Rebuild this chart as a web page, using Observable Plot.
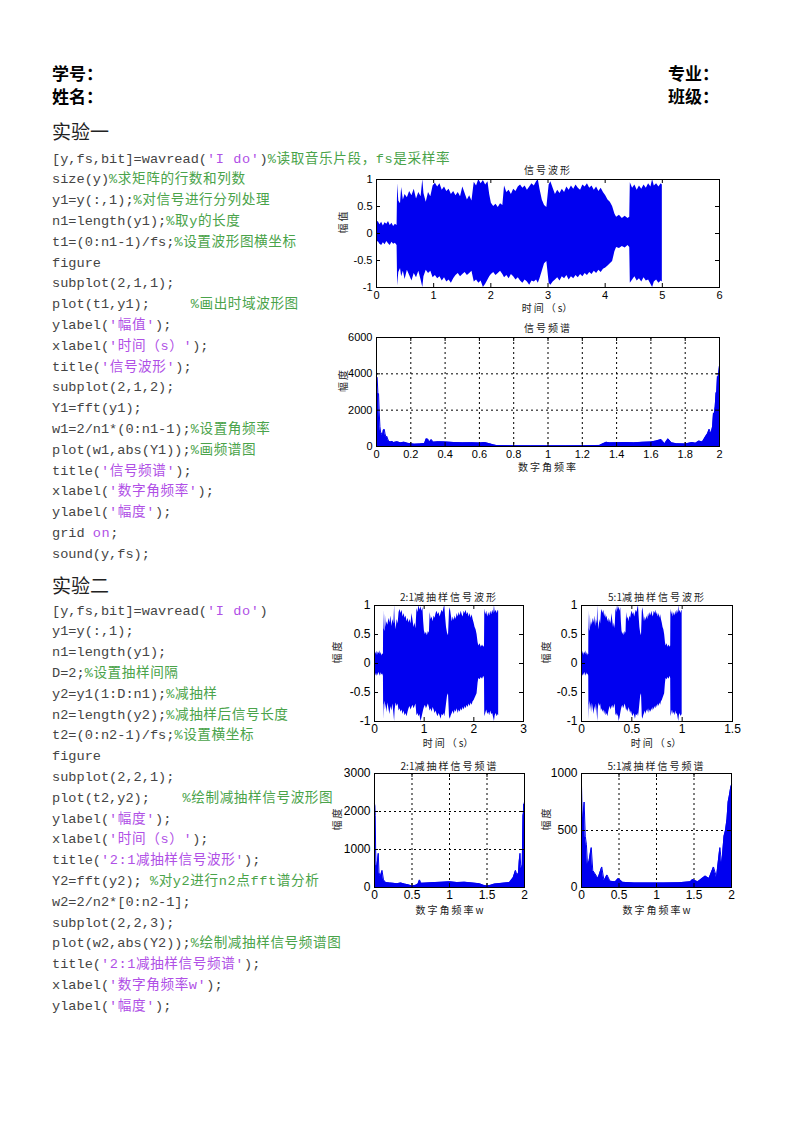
<!DOCTYPE html>
<html><head><meta charset="utf-8">
<script src="https://cdn.jsdelivr.net/npm/d3@7"></script>
<script src="https://cdn.jsdelivr.net/npm/@observablehq/plot@0.6"></script>
<style>
body{margin:0;background:#fff;}
#page{position:relative;width:793px;height:1122px;overflow:hidden;background:#fff;}
.hdr{position:absolute;font-family:"Noto Sans CJK SC";font-weight:700;font-size:17px;line-height:17px;color:#000;white-space:pre;}
.sec{position:absolute;left:52px;font-family:"Noto Sans CJK SC";font-size:19px;line-height:19px;color:#222;font-weight:400;}
.code{position:absolute;left:52px;font-family:"Liberation Mono","Noto Sans CJK SC";font-size:13.6px;color:#444;white-space:pre;}
.code div{height:20.8px;line-height:20.8px;}
.c{color:#4aa34a;letter-spacing:0.6px;}
.s{color:#b050e6;letter-spacing:0.6px;}
</style></head>
<body><div id="page"></div>
<script>
// ---------- document text ----------
const headerLeft = ["学号：", "姓名："];
const headerRight = ["专业：", "班级："];
const sections = ["实验一", "实验二"];
const code1 = [
  [["t","[y,fs,bit]=wavread("],["s","'I do'"],["t",")"],["c","%读取音乐片段，fs是采样率"]],
  [["t","size(y)"],["c","%求矩阵的行数和列数"]],
  [["t","y1=y(:,1);"],["c","%对信号进行分列处理"]],
  [["t","n1=length(y1);"],["c","%取y的长度"]],
  [["t","t1=(0:n1-1)/fs;"],["c","%设置波形图横坐标"]],
  [["t","figure"]],
  [["t","subplot(2,1,1);"]],
  [["t","plot(t1,y1);     "],["c","%画出时域波形图"]],
  [["t","ylabel("],["s","'幅值'"],["t",");"]],
  [["t","xlabel("],["s","'时间（s）'"],["t",");"]],
  [["t","title("],["s","'信号波形'"],["t",");"]],
  [["t","subplot(2,1,2);"]],
  [["t","Y1=fft(y1);"]],
  [["t","w1=2/n1*(0:n1-1);"],["c","%设置角频率"]],
  [["t","plot(w1,abs(Y1));"],["c","%画频谱图"]],
  [["t","title("],["s","'信号频谱'"],["t",");"]],
  [["t","xlabel("],["s","'数字角频率'"],["t",");"]],
  [["t","ylabel("],["s","'幅度'"],["t",");"]],
  [["t","grid "],["s","on"],["t",";"]],
  [["t","sound(y,fs);"]]
];
const code2 = [
  [["t","[y,fs,bit]=wavread("],["s","'I do'"],["t",")"]],
  [["t","y1=y(:,1);"]],
  [["t","n1=length(y1);"]],
  [["t","D=2;"],["c","%设置抽样间隔"]],
  [["t","y2=y1(1:D:n1);"],["c","%减抽样"]],
  [["t","n2=length(y2);"],["c","%减抽样后信号长度"]],
  [["t","t2=(0:n2-1)/fs;"],["c","%设置横坐标"]],
  [["t","figure"]],
  [["t","subplot(2,2,1);"]],
  [["t","plot(t2,y2);    "],["c","%绘制减抽样信号波形图"]],
  [["t","ylabel("],["s","'幅度'"],["t",");"]],
  [["t","xlabel("],["s","'时间（s）'"],["t",");"]],
  [["t","title("],["s","'2:1减抽样信号波形'"],["t",");"]],
  [["t","Y2=fft(y2); "],["c","%对y2进行n2点fft谱分析"]],
  [["t","w2=2/n2*[0:n2-1];"]],
  [["t","subplot(2,2,3);"]],
  [["t","plot(w2,abs(Y2));"],["c","%绘制减抽样信号频谱图"]],
  [["t","title("],["s","'2:1减抽样信号频谱'"],["t",");"]],
  [["t","xlabel("],["s","'数字角频率w'"],["t",");"]],
  [["t","ylabel("],["s","'幅度'"],["t",");"]]
];

// ---------- chart data ----------
// waveform envelope of y1 (time s, upper, lower)
const sigT  = [0.00,0.03,0.06,0.09,0.12,0.15,0.18,0.21,0.24,0.27,0.30,0.33,0.36,0.37,0.39,0.42,0.44,0.47,0.50,0.54,0.58,0.62,0.66,0.70,0.74,0.78,0.81,0.83,0.87,0.91,0.95,0.99,1.03,1.07,1.11,1.15,1.19,1.23,1.27,1.31,1.35,1.39,1.43,1.47,1.51,1.55,1.59,1.63,1.67,1.71,1.75,1.79,1.83,1.87,1.91,1.95,1.98,2.01,2.05,2.09,2.13,2.17,2.21,2.24,2.28,2.32,2.36,2.40,2.44,2.48,2.52,2.56,2.60,2.64,2.68,2.72,2.76,2.80,2.83,2.86,2.90,2.94,2.98,3.02,3.05,3.09,3.13,3.17,3.21,3.25,3.29,3.33,3.37,3.41,3.45,3.49,3.53,3.57,3.61,3.65,3.69,3.73,3.77,3.81,3.85,3.89,3.93,3.97,4.01,4.05,4.09,4.13,4.17,4.20,4.25,4.30,4.35,4.40,4.43,4.44,4.48,4.52,4.56,4.60,4.64,4.68,4.72,4.76,4.80,4.83,4.86,4.90,4.94,4.98,5.00];
const sigHi = [0.20,0.22,0.16,0.21,0.14,0.20,0.17,0.22,0.15,0.19,0.13,0.17,0.15,0.92,0.60,0.55,0.85,0.62,0.72,0.66,0.78,0.70,0.82,0.64,0.76,0.68,1.00,0.74,0.58,0.76,0.68,0.88,0.93,0.86,0.92,0.80,0.86,0.78,0.82,0.72,0.78,0.70,0.76,0.68,0.86,0.74,0.62,0.70,0.60,0.95,0.88,1.00,0.92,0.98,0.90,0.96,0.72,0.56,0.50,0.54,0.48,0.55,0.52,0.88,0.76,0.80,0.72,0.82,0.78,0.86,0.90,0.84,0.88,0.80,0.86,0.92,0.88,0.96,1.00,0.82,0.62,0.52,0.48,0.90,0.96,0.84,0.72,0.80,0.74,0.82,0.76,0.86,0.80,0.88,0.82,0.90,0.84,0.80,0.90,0.86,0.92,0.84,0.88,0.80,0.86,0.78,0.84,0.76,0.70,0.62,0.58,0.50,0.36,0.30,0.34,0.28,0.32,0.28,0.30,0.94,0.84,0.90,0.80,0.88,0.82,0.90,0.84,0.92,0.86,1.00,0.88,0.92,0.86,0.92,0.90];
const sigLo = [-0.18,-0.15,-0.20,-0.22,-0.17,-0.21,-0.15,-0.19,-0.22,-0.16,-0.20,-0.18,-0.22,-0.97,-0.72,-0.65,-0.80,-0.70,-0.85,-0.68,-0.78,-0.88,-0.74,-0.82,-0.70,-0.86,-1.00,-0.80,-0.68,-0.74,-0.70,-0.82,-0.78,-0.84,-0.80,-0.88,-0.82,-0.90,-0.86,-0.92,-0.84,-0.78,-0.74,-0.80,-0.76,-0.72,-0.78,-0.74,-0.70,-0.90,-0.86,-0.92,-0.88,-1.00,-0.94,-0.86,-0.80,-0.76,-0.72,-0.78,-0.74,-0.70,-0.76,-0.82,-0.78,-0.84,-0.76,-0.80,-0.86,-0.82,-0.88,-0.92,-0.86,-0.90,-0.96,-0.88,-0.90,-0.86,-0.92,-0.84,-0.70,-0.56,-0.52,-0.92,-0.96,-0.90,-0.86,-0.82,-0.88,-0.80,-0.84,-0.78,-0.86,-0.80,-0.84,-0.78,-0.82,-0.76,-0.80,-0.74,-0.78,-0.72,-0.76,-0.70,-0.74,-0.68,-0.72,-0.66,-0.64,-0.60,-0.56,-0.52,-0.34,-0.26,-0.28,-0.24,-0.27,-0.22,-0.26,-0.92,-0.86,-0.80,-0.88,-0.84,-0.90,-0.82,-0.88,-0.86,-0.94,-1.00,-0.90,-0.86,-0.92,-0.88,-0.90];
// |Y1| spectrum
const specW1 = [0,0.004,0.008,0.012,0.016,0.02,0.025,0.03,0.035,0.04,0.045,0.05,0.055,0.06,0.07,0.08,0.09,0.1,0.12,0.14,0.16,0.18,0.2,0.22,0.25,0.28,0.29,0.3,0.31,0.32,0.33,0.36,0.4,0.45,0.5,0.55,0.6,0.63,0.66,0.68,0.7,0.8,0.9,1.0,1.1,1.2,1.3,1.32,1.34,1.36,1.4,1.45,1.5,1.55,1.6,1.63,1.66,1.68,1.7,1.72,1.75,1.8,1.84,1.86,1.88,1.9,1.92,1.93,1.94,1.95,1.955,1.96,1.965,1.97,1.975,1.98,1.984,1.988,1.992,1.996,2.0];
const specM1 = [3850,3800,2950,2900,1850,1100,700,750,600,900,950,700,500,560,300,250,280,220,260,200,240,180,150,130,140,160,420,400,250,380,240,260,250,220,200,210,190,220,150,90,50,40,35,35,35,40,60,150,230,200,210,220,200,230,250,300,380,150,420,200,150,140,220,180,300,250,560,700,950,700,900,1100,1850,1800,2200,2950,3000,3850,3800,4100,4450];
// |Y2| spectrum (2:1)
const specW2 = [0,0.005,0.01,0.015,0.02,0.03,0.04,0.05,0.06,0.07,0.08,0.1,0.12,0.15,0.2,0.25,0.3,0.35,0.4,0.45,0.5,0.55,0.58,0.6,0.62,0.7,0.8,0.9,1.0,1.1,1.2,1.3,1.4,1.45,1.5,1.55,1.6,1.7,1.8,1.85,1.88,1.9,1.92,1.93,1.94,1.95,1.96,1.97,1.98,1.985,1.99,1.995,2.0];
const specM2 = [2200,2150,1900,1000,600,550,700,900,400,320,300,450,200,130,120,110,100,120,90,70,40,60,90,200,110,120,130,140,150,130,140,120,100,60,40,60,90,110,130,260,450,320,380,700,900,550,500,600,1900,1950,2200,2150,2250];
// |Y5| spectrum (5:1)
const specW5 = [0,0.01,0.02,0.035,0.05,0.065,0.08,0.1,0.13,0.15,0.18,0.22,0.27,0.3,0.34,0.38,0.45,0.49,0.55,0.7,0.9,1.1,1.3,1.45,1.48,1.55,1.65,1.7,1.76,1.8,1.845,1.87,1.9,1.92,1.94,1.955,1.97,1.99,2.0];
const specM5 = [900,600,620,750,450,380,200,230,350,150,120,80,180,60,110,55,50,80,45,40,40,40,42,50,70,50,100,80,180,90,350,200,450,500,600,750,800,880,900];

// tick values
const ticksT6 = [0,1,2,3,4,5,6];
const ticksT3 = [0,1,2,3];
const ticksT15 = [0,0.5,1,1.5];
const ticksW02 = [0,0.2,0.4,0.6,0.8,1,1.2,1.4,1.6,1.8,2];
const ticksW05 = [0,0.5,1,1.5,2];
const ticksAmp = [-1,-0.5,0,0.5,1];
const ticksM1 = [0,2000,4000,6000];
const ticksM2 = [0,1000,2000,3000];
const ticksM5 = [0,500,1000];

// ---------- page text ----------
const page = document.getElementById("page");
function addDiv(cls, text, left, top) {
  const d = document.createElement("div");
  d.className = cls; d.textContent = text;
  d.style.left = left + "px"; d.style.top = top + "px";
  page.appendChild(d);
}
addDiv("hdr", headerLeft[0], 52, 64);
addDiv("hdr", headerLeft[1], 52, 87);
addDiv("hdr", headerRight[0], 668, 64);
addDiv("hdr", headerRight[1], 668, 87);
addDiv("sec", sections[0], 52, 121);
addDiv("sec", sections[1], 52, 575);

function addCode(lines, top) {
  const box = document.createElement("div");
  box.className = "code"; box.style.top = top + "px";
  for (const segs of lines) {
    const ln = document.createElement("div");
    for (const [k, txt] of segs) {
      const sp = document.createElement("span");
      if (k !== "t") sp.className = k;
      sp.textContent = txt;
      ln.appendChild(sp);
    }
    box.appendChild(ln);
  }
  page.appendChild(box);
}
addCode(code1, 149.6);
addCode(code2, 601.6);

// ---------- charts ----------
const sig = sigT.map((t, i) => ({t, hi: sigHi[i], lo: sigLo[i]}));
const zipSpec = (w, m) => w.map((x, i) => ({w: x, m: m[i]}));
const spec1 = zipSpec(specW1, specM1), spec2 = zipSpec(specW2, specM2), spec5 = zipSpec(specW5, specM5);
const BLUE = "#0000f0";
const fmt = d => String(d);
const cjk = {fontFamily: "'Noto Sans CJK SC'", fontSize: 10, fill: "#222"};
const SVGNS = "http://www.w3.org/2000/svg";

function spaceCJK(t) {
  const s = t.textContent;
  if (!/[\u4e00-\u9fff\uff08]/.test(s)) return;
  const runs = s.match(/[\x00-\x7f]+|[^\x00-\x7f]+/g);
  t.textContent = "";
  for (const r of runs) {
    const ts = document.createElementNS(SVGNS, "tspan");
    ts.textContent = r;
    ts.style.letterSpacing = /[\x00-\x7f]/.test(r) ? "0px" : "2px";
    t.appendChild(ts);
  }
}

function matlabAxes(cfg) {
  const mL = 50, mR = 14, mT = 28, mB = 40;
  const {L, T, W, H} = cfg;
  const marks = [];
  if (cfg.grid) {
    marks.push(Plot.ruleX(cfg.xt, {stroke: "#000", strokeDasharray: "2,3", strokeWidth: 1}));
    marks.push(Plot.ruleY(cfg.yt, {stroke: "#000", strokeDasharray: "2,3", strokeWidth: 1}));
  }
  if (cfg.sig) {
    const D = cfg.D;
    marks.push(Plot.areaY(cfg.sig, {x: d => d.t / D, y1: "lo", y2: "hi", fill: BLUE}));
  }
  if (cfg.spec) {
    marks.push(Plot.areaY(cfg.spec, {x: "w", y: "m", fill: BLUE}));
    marks.push(Plot.lineY(cfg.spec, {x: "w", y: "m", stroke: BLUE, strokeWidth: 1}));
  }
  marks.push(
    Plot.ruleX(cfg.xt, {insetTop: H - 4, stroke: "#000"}),
    Plot.ruleX(cfg.xt, {insetBottom: H - 4, stroke: "#000"}),
    Plot.ruleY(cfg.yt, {insetRight: W - 4, stroke: "#000"}),
    Plot.ruleY(cfg.yt, {insetLeft: W - 4, stroke: "#000"}),
    Plot.frame({stroke: "#000", strokeWidth: 1}),
    Plot.axisX(cfg.xt, {tickSize: 0, tickPadding: cfg.tp, tickFormat: fmt, label: null, fontSize: cfg.fs}),
    Plot.axisY(cfg.yt, {tickSize: 0, tickPadding: 4, tickFormat: fmt, label: null, fontSize: cfg.fs}),
    Plot.text([cfg.title], {text: d => d, frameAnchor: "top", dy: cfg.tdy, ...cjk}),
    Plot.text([cfg.xl], {text: d => d, frameAnchor: "bottom", dy: cfg.xdy, ...cjk}),
    Plot.text([cfg.yl], {text: d => d, frameAnchor: "left", dx: cfg.ydx, rotate: -90, ...cjk})
  );
  const chart = Plot.plot({
    width: W + mL + mR, height: H + mT + mB,
    marginLeft: mL, marginRight: mR, marginTop: mT, marginBottom: mB,
    x: {domain: cfg.xd, label: null},
    y: {domain: cfg.yd, label: null},
    style: {fontFamily: "'Liberation Sans', Arial, sans-serif", fontSize: "11px", color: "#000", background: "transparent", overflow: "visible"},
    marks
  });
  chart.querySelectorAll("text").forEach(spaceCJK);
  chart.style.position = "absolute";
  chart.style.left = (L - mL) + "px";
  chart.style.top = (T - mT) + "px";
  page.appendChild(chart);
}

matlabAxes({L: 376, T: 179, W: 343, H: 108, xd: [0, 6], yd: [-1, 1], xt: ticksT6, yt: ticksAmp, sig, D: 1, fs: 11, tp: 3.5,
  title: "信号波形", xl: "时间（s）", yl: "幅值", tdy: -12.5, xdy: 24.5, ydx: -33});
matlabAxes({L: 376, T: 336.5, W: 343, H: 109, xd: [0, 2], yd: [0, 6000], xt: ticksW02, yt: ticksM1, spec: spec1, grid: true, fs: 11, tp: 3.5,
  title: "信号频谱", xl: "数字角频率", yl: "幅度", tdy: -12.5, xdy: 24, ydx: -33});
matlabAxes({L: 374, T: 604.5, W: 149, H: 116, xd: [0, 3], yd: [-1, 1], xt: ticksT3, yt: ticksAmp, sig, D: 2, fs: 12, tp: 3,
  title: "2:1减抽样信号波形", xl: "时间（s）", yl: "幅度", tdy: -11.5, xdy: 25.5, ydx: -37});
matlabAxes({L: 581, T: 604.5, W: 151, H: 116, xd: [0, 1.5], yd: [-1, 1], xt: ticksT15, yt: ticksAmp, sig, D: 5, fs: 12, tp: 3,
  title: "5:1减抽样信号波形", xl: "时间（s）", yl: "幅度", tdy: -11.5, xdy: 25.5, ydx: -35});
matlabAxes({L: 374, T: 772.5, W: 150, H: 114, xd: [0, 2], yd: [0, 3000], xt: ticksW05, yt: ticksM2, spec: spec2, grid: true, fs: 12, tp: 3,
  title: "2:1减抽样信号频谱", xl: "数字角频率w", yl: "幅度", tdy: -11, xdy: 26, ydx: -37});
matlabAxes({L: 581, T: 772.5, W: 150, H: 114, xd: [0, 2], yd: [0, 1000], xt: ticksW05, yt: ticksM5, spec: spec5, grid: true, fs: 12, tp: 3,
  title: "5:1减抽样信号频谱", xl: "数字角频率w", yl: "幅度", tdy: -11, xdy: 26, ydx: -35});
</script>
</body></html>
